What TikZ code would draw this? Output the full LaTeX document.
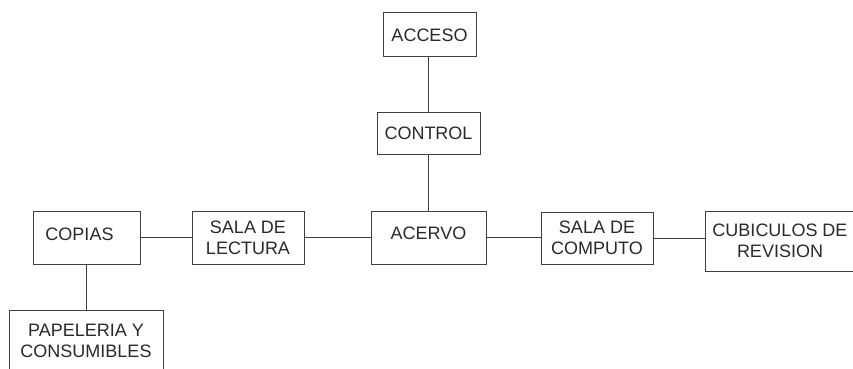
\documentclass[tikz,border=0pt]{standalone}
\usepackage{fontspec}
\setmainfont{Liberation Sans}
\definecolor{txt}{HTML}{2A2A2A}
\definecolor{ln}{HTML}{404040}
\begin{document}
\begin{tikzpicture}[x=1pt,y=-1pt,
  box/.style={draw=ln, line width=1pt, rectangle, inner sep=0pt, align=center,
    text=txt, font=\fontsize{18}{21}\selectfont},
  conn/.style={draw=ln, line width=1pt}]
\useasboundingbox (0,0) rectangle (853,369);
\clip (0,0) rectangle (853,369);
\fill[white] (0,0) rectangle (853,369);
\node[box, minimum width=93pt, minimum height=44pt] (acceso) at (429.5,35) {ACCESO};
\node[box, minimum width=103pt, minimum height=42pt] (control) at (428.5,133) {CONTROL};
\node[box, minimum width=115pt, minimum height=53pt, text height=9pt, text depth=6pt] (acervo) at (428.5,237.5) {ACERVO};
\node[box, minimum width=112pt, minimum height=53pt] (lectura) at (248,237.5) {SALA DE\\LECTURA};
\node[box, minimum width=107pt, minimum height=53pt, text height=10pt, text depth=5pt] (copias) at (86.5,237.5) {COPIAS\hspace*{14pt}};
\node[box, minimum width=112pt, minimum height=52pt] (computo) at (597,238) {SALA DE\\COMPUTO};
\node[box, minimum width=150pt, minimum height=60pt] (cubiculos) at (780,241) {CUBICULOS DE\\REVISION};
\node[box, minimum width=154pt, minimum height=62pt] (papeleria) at (86,341) {PAPELERIA Y\\CONSUMIBLES};
\draw[conn] (control.north) -- (control.north |- acceso.south);
\draw[conn] (control.south) -- (control.south |- acervo.north);
\draw[conn] (copias.east) -- (copias.east -| lectura.west);
\draw[conn] (lectura.east) -- (lectura.east -| acervo.west);
\draw[conn] (acervo.east) -- (acervo.east -| computo.west);
\draw[conn] (computo.east) -- (computo.east -| cubiculos.west);
\draw[conn] (copias.south) -- (copias.south |- papeleria.north);
\end{tikzpicture}
\end{document}
